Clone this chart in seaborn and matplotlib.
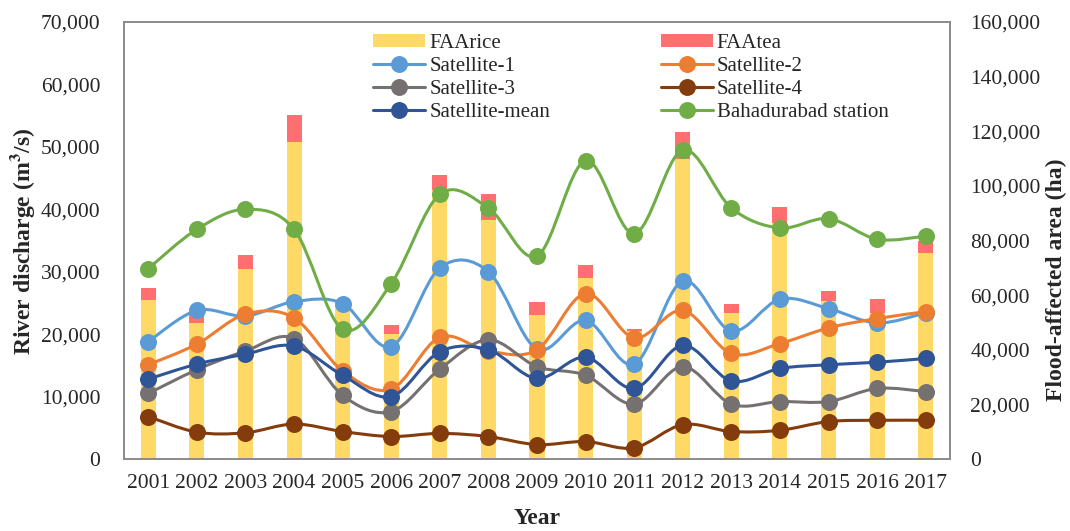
import numpy as np
import matplotlib
matplotlib.use("Agg")
import matplotlib.pyplot as plt
from matplotlib.path import Path
from matplotlib.patches import PathPatch, Patch
from matplotlib.lines import Line2D
from matplotlib.ticker import FuncFormatter, MultipleLocator
import seaborn as sns

# ---- data -------------------------------------------------------------
years = [str(y) for y in range(2001, 2018)]

# flood-affected area (ha), stacked bars on the right axis
faa_rice = [58100, 49900, 69400, 115900, 55500, 45700, 98500, 87400, 52600,
            66100, 46900, 110000, 53400, 86300, 57800, 53500, 75500]
faa_tea = [4600, 3800, 5200, 10100, 600, 3400, 5400, 9700, 4900,
           4900, 800, 9900, 3200, 6000, 3600, 4900, 4500]

# river discharge (m3/s), lines on the left axis
satellite_1 = [18800, 23800, 22900, 25200, 24900, 18000, 30600, 30000, 17600,
               22200, 15200, 28500, 20500, 25600, 24100, 21800, 23400]
satellite_2 = [15100, 18400, 23200, 22600, 14100, 11200, 19500, 17300, 17500,
               26500, 19400, 23800, 16900, 18500, 21000, 22500, 23600]
satellite_3 = [10500, 14300, 17300, 19300, 10200, 7600, 14400, 19100, 14800,
               13400, 8800, 14800, 8800, 9200, 9200, 11300, 10800]
satellite_4 = [6800, 4300, 4200, 5600, 4400, 3600, 4100, 3600, 2300,
               2800, 1800, 5500, 4400, 4600, 6000, 6200, 6200]
satellite_mean = [12800, 15200, 16800, 18100, 13400, 10000, 17200, 17500, 12900,
                  16300, 11300, 18200, 12500, 14500, 15100, 15500, 16100]
bahadurabad = [30500, 36800, 40000, 36800, 20800, 28100, 42400, 40200, 32500,
               47800, 36100, 49500, 40200, 37000, 38500, 35200, 35700]

series_names = ["Satellite-1", "Satellite-2", "Satellite-3", "Satellite-4",
                "Satellite-mean", "Bahadurabad station"]
series_values = [satellite_1, satellite_2, satellite_3, satellite_4,
                 satellite_mean, bahadurabad]
series_colors = ["#5B9BD5", "#ED7D31", "#767171", "#843C0C", "#2F5597", "#70AD47"]
rice_color = "#FFD966"
tea_color = "#FF6F6F"

# ---- style ------------------------------------------------------------
sns.set_style("white")
plt.rcParams["font.family"] = ["Liberation Serif", "DejaVu Serif"]
plt.rcParams["mathtext.fontset"] = "stix"

fig = plt.figure(figsize=(10.70, 5.31), dpi=100)
ax = fig.add_axes([124 / 1070, 1 - 459 / 531, 826 / 1070, 437 / 531])
ax2 = ax.twinx()
ax.set_zorder(ax2.get_zorder() + 1)
ax.patch.set_visible(False)


def smooth_path(xs, ys):
    """Cubic Bezier path through the points (Catmull-Rom style smoothing)."""
    pts = np.column_stack([xs, ys]).astype(float)
    n = len(pts)
    verts = [pts[0]]
    codes = [Path.MOVETO]
    for i in range(n - 1):
        p0 = pts[i - 1] if i > 0 else pts[i]
        p1 = pts[i]
        p2 = pts[i + 1]
        p3 = pts[i + 2] if i + 2 < n else pts[i + 1]
        c1 = p1 + (p2 - p0) / 6.0
        c2 = p2 - (p3 - p1) / 6.0
        verts += [c1, c2, p2]
        codes += [Path.CURVE4] * 3
    return Path(verts, codes)


# ---- bars: total (tea on top) then rice -------------------------------
faa_total = [r + t for r, t in zip(faa_rice, faa_tea)]
sns.barplot(x=years, y=faa_total, color=tea_color, width=0.31, saturation=1,
            linewidth=0, errorbar=None, ax=ax2)
sns.barplot(x=years, y=faa_rice, color=rice_color, width=0.31, saturation=1,
            linewidth=0, errorbar=None, ax=ax2)

# ---- smoothed lines with markers --------------------------------------
pos = np.arange(len(years))
for k, (vals, col) in enumerate(zip(series_values, series_colors)):
    z = 3 + 2 * k
    ax.add_patch(PathPatch(smooth_path(pos, vals), facecolor="none",
                           edgecolor=col, lw=2.2, zorder=z,
                           capstyle="round", joinstyle="round"))
    sns.scatterplot(x=pos, y=vals, color=col, s=150, linewidth=0,
                    zorder=z + 1, legend=False, ax=ax)

# ---- axes -------------------------------------------------------------
ax.set_xlim(-0.5, len(years) - 0.5)
ax.set_ylim(0, 70000)
ax2.set_ylim(0, 160000)
ax.yaxis.set_major_locator(MultipleLocator(10000))
ax2.yaxis.set_major_locator(MultipleLocator(20000))
fmt = FuncFormatter(lambda v, p: f"{int(round(v)):,}")
ax.yaxis.set_major_formatter(fmt)
ax2.yaxis.set_major_formatter(fmt)
ax.set_xticks(pos)
ax.set_xticklabels(years)

ax.tick_params(axis="y", length=0, labelsize=15.5, pad=17)
ax.tick_params(axis="x", length=0, labelsize=15.5, pad=11)
ax2.tick_params(axis="y", length=0, labelsize=15.5, pad=14.5)
ax.set_xlabel("")
ax.set_ylabel("")
ax2.set_xlabel("")
ax2.set_ylabel("")

for a in (ax, ax2):
    for sp in a.spines.values():
        sp.set_color("#8C8C8C")
        sp.set_linewidth(1.3)
ax2.grid(False)
ax.grid(False)

fig.text(23 / 1070, 1 - 241 / 531, "River discharge (m$^{\\mathbf{3}}$/s)",
         rotation=90, ha="center", va="center", fontsize=17, fontweight="bold")
fig.text(1056 / 1070, 1 - 280 / 531, "Flood-affected area (ha)",
         rotation=90, ha="center", va="center", fontsize=17, fontweight="bold")
fig.text(537 / 1070, 1 - 519 / 531, "Year", ha="center", va="center",
         fontsize=17, fontweight="bold")

# ---- legend -----------------------------------------------------------
def line_handle(col, label):
    return Line2D([], [], color=col, lw=2.2, marker="o", markersize=12.2,
                  markeredgewidth=0, label=label)

h_rice = Patch(facecolor=rice_color, edgecolor="none", label="FAArice")
h_tea = Patch(facecolor=tea_color, edgecolor="none", label="FAAtea")
h = {n: line_handle(c, n) for n, c in zip(series_names, series_colors)}
handles = [h_rice, h["Satellite-1"], h["Satellite-3"], h["Satellite-mean"],
           h_tea, h["Satellite-2"], h["Satellite-4"], h["Bahadurabad station"]]
ax.legend(handles=handles, ncol=2, frameon=False, fontsize=15,
          loc="upper left", bbox_to_anchor=(373 / 1070, 1 - 34 / 531),
          bbox_transform=fig.transFigure, borderpad=0, borderaxespad=0,
          handlelength=2.5, handletextpad=0.2, columnspacing=5.3,
          labelspacing=0.19, handleheight=0.6)

fig.savefig("out.png", dpi=100)
